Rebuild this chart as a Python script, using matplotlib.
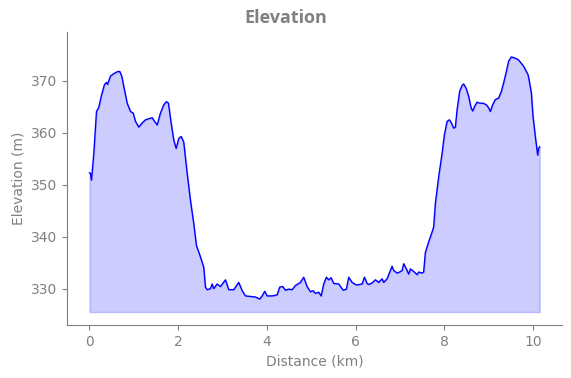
import matplotlib
matplotlib.use("Agg")
import matplotlib.pyplot as plt
import numpy as np

distance_km = [
    0.000, 0.023, 0.045, 0.097, 0.158, 0.210, 0.264, 0.338, 0.383, 0.406,
    0.473, 0.548, 0.638, 0.683, 0.728, 0.773, 0.850, 0.924, 0.985, 1.037,
    1.111, 1.188, 1.262, 1.336, 1.413, 1.465, 1.526, 1.600, 1.675, 1.735,
    1.780, 1.841, 1.900, 1.954, 2.013, 2.067, 2.125, 2.202, 2.276, 2.351,
    2.411, 2.502, 2.576, 2.614, 2.653, 2.727, 2.765, 2.801, 2.878, 2.952,
    3.065, 3.139, 3.252, 3.365, 3.442, 3.516, 3.629, 3.741, 3.838, 3.892,
    3.951, 4.005, 4.118, 4.230, 4.289, 4.357, 4.417, 4.492, 4.568, 4.643,
    4.755, 4.830, 4.906, 4.981, 5.042, 5.093, 5.168, 5.222, 5.281, 5.341,
    5.393, 5.447, 5.506, 5.619, 5.718, 5.792, 5.844, 5.921, 6.018, 6.146,
    6.198, 6.259, 6.295, 6.371, 6.446, 6.520, 6.597, 6.633, 6.709, 6.746,
    6.822, 6.858, 6.935, 6.993, 7.048, 7.084, 7.144, 7.196, 7.235, 7.309,
    7.386, 7.422, 7.498, 7.534, 7.573, 7.647, 7.724, 7.760, 7.798, 7.872,
    7.949, 8.001, 8.062, 8.114, 8.159, 8.211, 8.249, 8.287, 8.346, 8.400,
    8.436, 8.490, 8.549, 8.603, 8.639, 8.684, 8.738, 8.797, 8.873, 8.947,
    8.999, 9.038, 9.090, 9.150, 9.225, 9.286, 9.337, 9.398, 9.450, 9.511,
    9.585, 9.662, 9.714, 9.788, 9.849, 9.887, 9.923, 9.962, 10.000, 10.052,
    10.104, 10.126, 10.149,
]

elevation_m = [
    352.3, 352.2, 350.9, 356.0, 364.1, 364.9, 367.0, 369.3, 369.7, 369.3,
    370.9, 371.4, 371.8, 371.8, 370.9, 368.9, 365.7, 364.1, 363.8, 362.2,
    361.1, 361.9, 362.5, 362.7, 362.9, 362.2, 361.5, 363.8, 365.4, 366.0,
    365.7, 361.9, 358.6, 357.0, 358.9, 359.3, 358.2, 352.2, 347.0, 342.5,
    338.3, 336.1, 334.1, 330.3, 329.8, 330.0, 330.9, 330.0, 330.9, 330.4,
    331.7, 329.8, 329.8, 331.2, 329.6, 328.6, 328.5, 328.4, 328.0, 328.6,
    329.5, 328.6, 328.6, 328.8, 330.3, 330.4, 329.7, 329.9, 329.8, 330.6,
    331.2, 332.2, 330.4, 329.4, 329.6, 329.1, 329.3, 328.6, 330.9, 332.2,
    331.7, 332.1, 331.0, 330.9, 329.7, 329.9, 332.2, 331.2, 330.7, 330.9,
    332.2, 331.0, 330.8, 331.1, 331.7, 331.2, 331.9, 331.2, 331.9, 332.7,
    334.3, 333.5, 333.0, 333.2, 333.5, 334.8, 333.8, 332.8, 333.8, 333.3,
    332.7, 333.2, 333.0, 333.2, 337.0, 339.0, 340.9, 341.9, 346.4, 351.5,
    356.0, 359.6, 362.2, 362.5, 361.9, 360.9, 361.1, 364.4, 368.0, 369.1,
    369.4, 368.6, 367.0, 364.8, 364.2, 365.1, 365.9, 365.7, 365.7, 365.4,
    364.8, 364.1, 365.4, 366.4, 366.7, 368.0, 369.6, 371.8, 373.8, 374.6,
    374.4, 374.1, 373.6, 372.8, 371.8, 371.2, 369.6, 367.7, 363.1, 359.3,
    355.7, 357.0, 357.3,
]

fill_base_m = 325.5
x_ticks = [0, 2, 4, 6, 8, 10]
y_ticks = [330, 340, 350, 360, 370]

gray = "#808080"

fig = plt.figure(figsize=(5.71, 3.78), dpi=100)
ax = fig.add_axes([0.1173, 0.1402, 0.8672, 0.7751])

ax.fill_between(distance_km, elevation_m, fill_base_m, color="blue", alpha=0.2)
ax.plot(distance_km, elevation_m, color="blue", linewidth=1.0)

ax.set_ylim(323.0, 379.4)
ax.set_xticks(x_ticks)
ax.set_yticks(y_ticks)

for s in ["top", "right"]:
    ax.spines[s].set_visible(False)
for s in ["left", "bottom"]:
    ax.spines[s].set_color(gray)

ax.tick_params(colors=gray, labelsize=10)
ax.set_xlabel("Distance (km)", color=gray, fontsize=10)
ax.set_ylabel("Elevation (m)", color=gray, fontsize=10)
fig.suptitle("Elevation", color=gray, fontsize=13, fontweight="bold",
             family=["Open Sans", "DejaVu Sans"], x=0.5, y=0.975)

fig.savefig("out.png", dpi=100)
